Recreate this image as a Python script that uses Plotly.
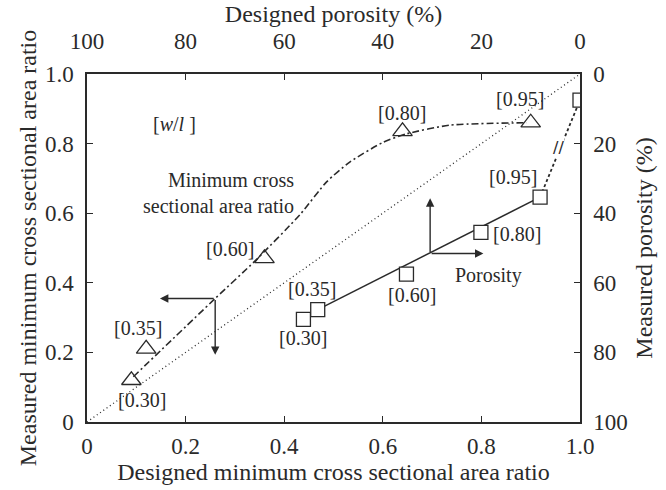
import plotly.graph_objects as go

# ---- data ----
x_ticks = [0, 0.2, 0.4, 0.6, 0.8, 1.0]
x_ticklabels = ["0", "0.2", "0.4", "0.6", "0.8", "1.0"]
y_ticks = [0, 0.2, 0.4, 0.6, 0.8, 1.0]
y_ticklabels = ["0", "0.2", "0.4", "0.6", "0.8", "1.0"]
top_ticks = [100, 80, 60, 40, 20, 0]
right_ticks = [0, 20, 40, 60, 80, 100]

# minimum cross sectional area ratio (triangles)
tri_wl = ["[0.30]", "[0.35]", "[0.60]", "[0.80]", "[0.95]"]
tri_designed = [0.09, 0.12, 0.36, 0.64, 0.90]
tri_measured = [0.12, 0.21, 0.47, 0.835, 0.86]
tri_label_x = [0.111, 0.104, 0.29, 0.638, 0.878]
tri_label_y = [0.062, 0.269, 0.496, 0.889, 0.927]

# trend curve of area ratio (dash-dot)
curve_x = [0.094, 0.26, 0.341, 0.432, 0.486, 0.533, 0.601, 0.648, 0.736, 0.892]
curve_y = [0.13, 0.355, 0.463, 0.596, 0.69, 0.747, 0.804, 0.828, 0.853, 0.86]

# porosity (squares), designed vs measured (%)
sq_wl = ["[0.30]", "[0.35]", "[0.60]", "[0.80]", "[0.95]"]
sq_designed_por = [56.1, 53.2, 35.2, 20.1, 8.1, 0.0]
sq_measured_por = [70.5, 67.7, 57.5, 45.5, 35.4, 7.5]
sq_label_x = [0.439, 0.456, 0.659, 0.872, 0.865]
sq_label_y = [0.241, 0.383, 0.364, 0.541, 0.705]

# porosity fit line (solid) and dotted continuation
fit_por_x = [53.2, 8.1]
fit_por_y = [67.7, 35.4]
dot_por_x = [8.1, 0.0]
dot_por_y = [35.4, 7.5]

diag = [0, 1]

INK = "#2a2a2a"
FONT = "Liberation Serif, Times New Roman, serif"
FS = 23
FT = 24
FA = 20

fig = go.Figure()

fig.add_trace(go.Scatter(x=diag, y=diag, mode="lines",
                         line=dict(color=INK, width=1.3, dash="1px,3px"),
                         showlegend=False, hoverinfo="skip"))
fig.add_trace(go.Scatter(x=curve_x, y=curve_y, mode="lines",
                         line=dict(color=INK, width=1.6, dash="7px,3px,2px,3px", shape="spline", smoothing=0.6),
                         showlegend=False))
fig.add_trace(go.Scatter(x=tri_designed, y=tri_measured, mode="markers",
                         marker=dict(symbol="triangle-up-open", size=17, color=INK, line=dict(width=1.3)),
                         showlegend=False))

fig.add_trace(go.Scatter(x=fit_por_x, y=fit_por_y, mode="lines", xaxis="x2", yaxis="y2",
                         line=dict(color=INK, width=1.5), showlegend=False))
fig.add_trace(go.Scatter(x=dot_por_x, y=dot_por_y, mode="lines", xaxis="x2", yaxis="y2",
                         line=dict(color=INK, width=1.8, dash="3px,2.5px"), showlegend=False))
fig.add_trace(go.Scatter(x=sq_designed_por, y=sq_measured_por, mode="markers", xaxis="x2", yaxis="y2",
                         marker=dict(symbol="square", size=14, color="white", line=dict(width=1.3, color=INK)),
                         showlegend=False))

annotations = []
for t, x, y in zip(tri_wl, tri_label_x, tri_label_y):
    annotations.append(dict(x=x, y=y, xref="x", yref="y", text=t, showarrow=False,
                            font=dict(family=FONT, size=FA, color=INK)))
for t, x, y in zip(sq_wl, sq_label_x, sq_label_y):
    annotations.append(dict(x=x, y=y, xref="x", yref="y", text=t, showarrow=False,
                            font=dict(family=FONT, size=FA, color=INK)))

annotations += [
    dict(x=0.178, y=0.857, xref="x", yref="y", text="[<i>w</i>/<i>l</i> ]", showarrow=False,
         font=dict(family=FONT, size=FA, color=INK)),
    dict(x=0.424, y=0.657, xref="x", yref="y", xanchor="right",
         text="Minimum cross<br>sectional area ratio", align="right", showarrow=False,
         font=dict(family=FONT, size=FA, color=INK)),
    dict(x=0.814, y=0.42, xref="x", yref="y", text="Porosity", showarrow=False,
         font=dict(family=FONT, size=FA, color=INK)),
    dict(x=0.956, y=0.79, xref="x", yref="y", text="//", showarrow=False, textangle=0,
         bgcolor="white", borderpad=0,
         font=dict(family="DejaVu Sans", size=16, color=INK)),
]

arrow_style = dict(showarrow=True, arrowhead=2, arrowsize=1.2, arrowwidth=1.4, arrowcolor=INK,
                   xref="x", yref="y", axref="x", ayref="y", text="")
# area-ratio arrows (point to left/bottom axes)
annotations.append(dict(x=0.148, y=0.355, ax=0.26, ay=0.355, **arrow_style))
annotations.append(dict(x=0.26, y=0.193, ax=0.26, ay=0.355, **arrow_style))
# porosity arrows (point to top/right axes)
annotations.append(dict(x=0.804, y=0.484, ax=0.696, ay=0.484, **arrow_style))
annotations.append(dict(x=0.696, y=0.643, ax=0.696, ay=0.484, **arrow_style))

axis_common = dict(showline=True, linecolor=INK, linewidth=1.5, ticks="inside", ticklen=6,
                   tickwidth=1.3, tickcolor=INK, showgrid=False, zeroline=False,
                   tickfont=dict(family=FONT, size=FS, color=INK))

fig.update_layout(
    width=666, height=490,
    margin=dict(l=87, r=86, t=71, b=67),
    paper_bgcolor="white", plot_bgcolor="white",
    font=dict(family=FONT, size=FS, color=INK),
    xaxis=dict(range=[0, 1], tickvals=x_ticks, ticktext=x_ticklabels, ticklabelstandoff=3,
               title=dict(text="Designed minimum cross sectional area ratio",
                          font=dict(family=FONT, size=FT, color=INK), standoff=2),
               **axis_common),
    yaxis=dict(range=[0, 1], tickvals=y_ticks, ticktext=y_ticklabels, ticklabelstandoff=7,
               title=dict(text="Measured minimum cross sectional area ratio",
                          font=dict(family=FONT, size=FT, color=INK), standoff=2),
               **axis_common),
    xaxis2=dict(range=[100, 0], overlaying="x", side="top", tickvals=top_ticks, ticklabelstandoff=14,
                title=dict(text="Designed porosity (%)",
                           font=dict(family=FONT, size=FT, color=INK), standoff=0),
                **axis_common),
    yaxis2=dict(range=[100, 0], overlaying="y", side="right", tickvals=right_ticks, ticklabelstandoff=7,
                title=dict(text="Measured porosity (%)",
                           font=dict(family=FONT, size=FT, color=INK), standoff=8),
                **axis_common),
    annotations=annotations,
)

fig.write_html("out.html")
